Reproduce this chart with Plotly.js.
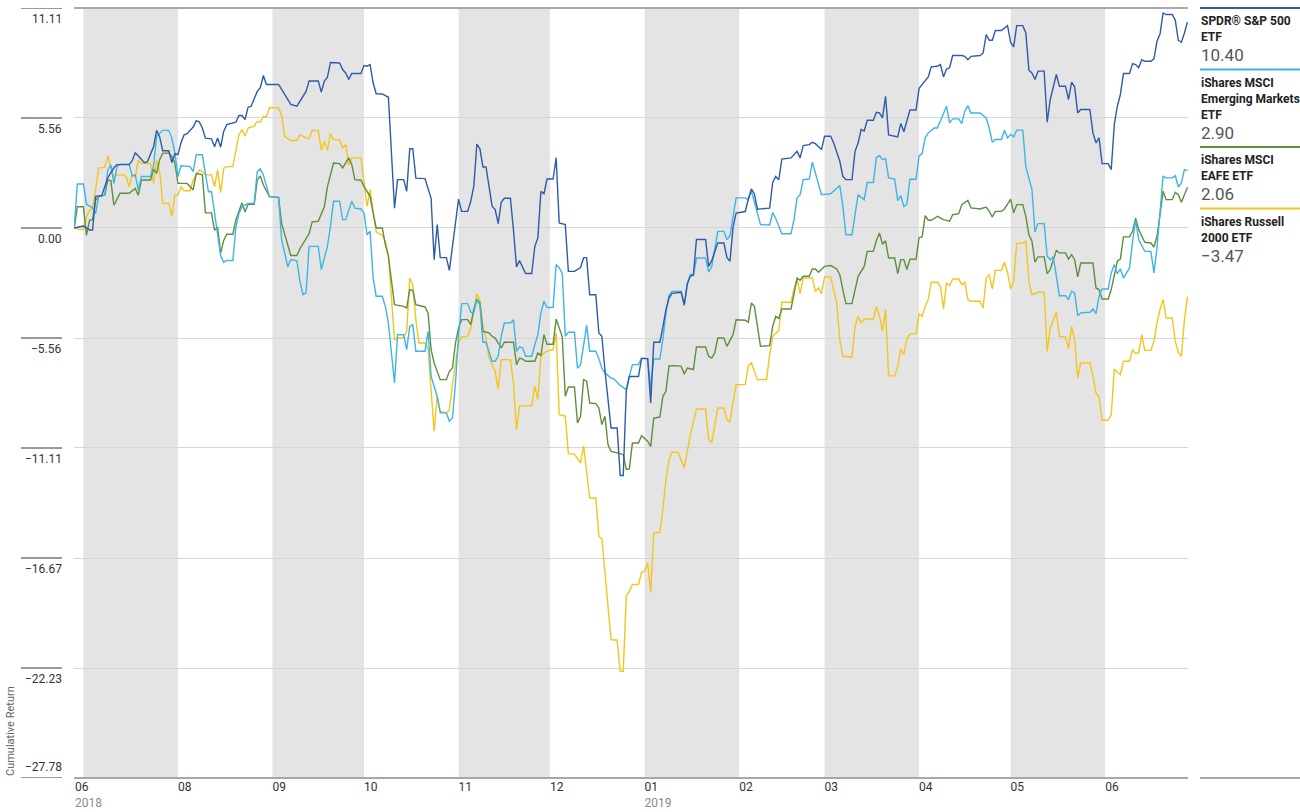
<!DOCTYPE html>
<html><head><meta charset="utf-8">
<script src="https://cdn.plot.ly/plotly-3.0.1.min.js"></script>
<style>html,body{margin:0;padding:0;background:#fff;}#chart{width:1300px;height:812px;}</style>
</head><body><div id="chart"></div>
<script>
const spdrDates = ["2018-06-28","2018-07-01","2018-07-03","2018-07-04","2018-07-05","2018-07-07","2018-07-09","2018-07-11","2018-07-12","2018-07-16","2018-07-17","2018-07-18","2018-07-20","2018-07-21","2018-07-22","2018-07-23","2018-07-24","2018-07-25","2018-07-26","2018-07-27","2018-07-29","2018-07-30","2018-07-31","2018-08-01","2018-08-02","2018-08-03","2018-08-04","2018-08-06","2018-08-07","2018-08-08","2018-08-09","2018-08-10","2018-08-12","2018-08-13","2018-08-14","2018-08-15","2018-08-16","2018-08-17","2018-08-20","2018-08-21","2018-08-22","2018-08-23","2018-08-24","2018-08-25","2018-08-27","2018-08-28","2018-08-29","2018-08-30","2018-09-03","2018-09-04","2018-09-07","2018-09-09","2018-09-10","2018-09-12","2018-09-13","2018-09-16","2018-09-17","2018-09-18","2018-09-19","2018-09-20","2018-09-23","2018-09-24","2018-09-25","2018-09-26","2018-09-27","2018-09-30","2018-10-01","2018-10-02","2018-10-03","2018-10-04","2018-10-05","2018-10-07","2018-10-09","2018-10-11","2018-10-12","2018-10-14","2018-10-15","2018-10-16","2018-10-17","2018-10-18","2018-10-21","2018-10-23","2018-10-24","2018-10-25","2018-10-26","2018-10-28","2018-10-29","2018-11-01","2018-11-02","2018-11-04","2018-11-05","2018-11-06","2018-11-07","2018-11-08","2018-11-09","2018-11-10","2018-11-12","2018-11-13","2018-11-14","2018-11-15","2018-11-16","2018-11-18","2018-11-19","2018-11-20","2018-11-21","2018-11-23","2018-11-25","2018-11-26","2018-11-27","2018-11-28","2018-11-29","2018-11-30","2018-12-02","2018-12-03","2018-12-04","2018-12-06","2018-12-07","2018-12-09","2018-12-11","2018-12-12","2018-12-13","2018-12-14","2018-12-16","2018-12-17","2018-12-18","2018-12-19","2018-12-21","2018-12-23","2018-12-24","2018-12-25","2018-12-26","2018-12-27","2018-12-30","2018-12-31","2019-01-02","2019-01-03","2019-01-04","2019-01-06","2019-01-07","2019-01-08","2019-01-09","2019-01-10","2019-01-13","2019-01-14","2019-01-15","2019-01-16","2019-01-17","2019-01-18","2019-01-21","2019-01-22","2019-01-23","2019-01-25","2019-01-27","2019-01-28","2019-01-29","2019-01-30","2019-01-31","2019-02-03","2019-02-04","2019-02-05","2019-02-06","2019-02-07","2019-02-11","2019-02-12","2019-02-13","2019-02-14","2019-02-15","2019-02-18","2019-02-20","2019-02-21","2019-02-22","2019-02-24","2019-02-25","2019-02-26","2019-02-28","2019-03-01","2019-03-03","2019-03-04","2019-03-06","2019-03-07","2019-03-08","2019-03-10","2019-03-11","2019-03-12","2019-03-13","2019-03-14","2019-03-15","2019-03-17","2019-03-18","2019-03-19","2019-03-20","2019-03-21","2019-03-22","2019-03-25","2019-03-26","2019-03-27","2019-03-29","2019-03-31","2019-04-01","2019-04-02","2019-04-04","2019-04-05","2019-04-07","2019-04-08","2019-04-09","2019-04-10","2019-04-11","2019-04-12","2019-04-15","2019-04-16","2019-04-17","2019-04-18","2019-04-21","2019-04-22","2019-04-23","2019-04-24","2019-04-25","2019-04-26","2019-04-28","2019-04-30","2019-05-01","2019-05-02","2019-05-03","2019-05-05","2019-05-06","2019-05-07","2019-05-08","2019-05-09","2019-05-10","2019-05-12","2019-05-13","2019-05-14","2019-05-16","2019-05-17","2019-05-19","2019-05-20","2019-05-21","2019-05-22","2019-05-23","2019-05-24","2019-05-27","2019-05-28","2019-05-29","2019-05-30","2019-05-31","2019-06-02","2019-06-03","2019-06-04","2019-06-05","2019-06-06","2019-06-07","2019-06-09","2019-06-10","2019-06-11","2019-06-12","2019-06-13","2019-06-14","2019-06-16","2019-06-17","2019-06-18","2019-06-19","2019-06-20","2019-06-21","2019-06-23","2019-06-24","2019-06-25","2019-06-26","2019-06-27","2019-06-28"];
const spdrValues = [0,0.1,-0.1,-0.1,1.6,1.63,2.54,3.04,3.2,3.2,3.4,3.8,3.47,3.3,3.35,3.7,4.1,4.93,4.6,3.9,3.9,3.3,3.75,3.7,4.3,4.7,4.76,5.1,5.42,5.36,5.05,4.54,4.5,4.1,4.54,4.08,4.88,5.22,5.34,5.68,5.68,5.47,6.1,6.15,6.9,7.08,7.7,7.25,7.25,7.0,6.24,6.15,6.4,6.9,7.42,7.42,6.86,7.42,7.6,8.36,8.33,8.0,7.83,7.5,7.8,7.8,8.2,8.17,8.25,7.32,6.78,6.77,6.6,1.0,2.44,2.44,1.85,4.0,4.0,2.52,2.49,1.5,-1.6,0.17,-1.5,-1.5,-2.14,1.46,0.84,0.84,1.35,2.1,4.24,4.0,3.08,3.08,1.1,0.93,0.22,1.3,1.5,1.5,-0.1,-1.97,-1.65,-2.3,-2.3,-0.93,-0.5,1.85,1.73,2.47,2.47,3.54,0.25,0.17,-2.19,-2.19,-2.0,-1.5,-1.5,-3.37,-3.37,-5.3,-5.47,-7.2,-10.1,-10.1,-12.5,-12.5,-8.2,-7.5,-7.5,-6.6,-6.6,-8.84,-5.77,-5.77,-5.0,-4.12,-3.54,-3.3,-3.25,-3.87,-2.8,-2.44,-2.36,-0.58,-0.58,-1.94,-1.65,-0.76,-0.76,-1.5,-1.68,0.04,0.75,0.83,1.45,1.97,1.72,0.95,1.0,2.3,2.6,2.44,3.48,3.54,3.87,3.54,4.16,4.21,4.33,4.26,3.96,4.63,4.63,4.29,3.37,2.61,2.44,2.44,3.87,4.29,4.97,4.9,5.44,5.44,5.84,5.81,5.56,6.65,4.7,4.6,5.28,4.86,5.96,5.96,7.05,7.24,7.63,8.14,8.17,8.25,7.63,8.03,8.09,8.71,8.71,8.67,8.5,8.67,8.71,8.84,9.77,9.48,9.48,9.97,9.97,10.22,9.38,9.15,10.22,10.22,9.85,7.97,7.83,7.5,7.92,7.92,5.34,6.49,7.75,7.16,7.16,6.49,7.36,7.13,5.81,5.98,5.98,4.8,4.3,4.55,3.25,3.25,2.95,5.22,6.15,6.74,7.8,7.8,8.3,8.25,8.09,8.5,8.42,8.42,8.54,9.43,9.8,10.86,10.78,10.78,10.49,9.48,9.38,9.85,10.40];

const emDates = ["2018-06-28","2018-06-29","2018-07-01","2018-07-02","2018-07-03","2018-07-04","2018-07-05","2018-07-06","2018-07-08","2018-07-09","2018-07-10","2018-07-11","2018-07-12","2018-07-13","2018-07-16","2018-07-17","2018-07-18","2018-07-19","2018-07-20","2018-07-23","2018-07-24","2018-07-25","2018-07-27","2018-07-29","2018-07-30","2018-07-31","2018-08-01","2018-08-02","2018-08-05","2018-08-06","2018-08-07","2018-08-09","2018-08-10","2018-08-11","2018-08-12","2018-08-13","2018-08-14","2018-08-15","2018-08-16","2018-08-17","2018-08-19","2018-08-20","2018-08-21","2018-08-22","2018-08-24","2018-08-26","2018-08-27","2018-08-28","2018-08-29","2018-08-31","2018-09-03","2018-09-04","2018-09-06","2018-09-07","2018-09-09","2018-09-10","2018-09-11","2018-09-12","2018-09-13","2018-09-16","2018-09-17","2018-09-19","2018-09-20","2018-09-21","2018-09-23","2018-09-24","2018-09-25","2018-09-27","2018-09-28","2018-09-30","2018-10-01","2018-10-02","2018-10-03","2018-10-04","2018-10-05","2018-10-07","2018-10-08","2018-10-09","2018-10-11","2018-10-12","2018-10-14","2018-10-15","2018-10-16","2018-10-17","2018-10-18","2018-10-21","2018-10-22","2018-10-23","2018-10-24","2018-10-25","2018-10-26","2018-10-28","2018-10-29","2018-10-30","2018-10-31","2018-11-01","2018-11-02","2018-11-04","2018-11-05","2018-11-06","2018-11-07","2018-11-08","2018-11-09","2018-11-10","2018-11-12","2018-11-13","2018-11-14","2018-11-15","2018-11-16","2018-11-18","2018-11-19","2018-11-20","2018-11-21","2018-11-22","2018-11-23","2018-11-25","2018-11-26","2018-11-27","2018-11-28","2018-11-29","2018-11-30","2018-12-02","2018-12-03","2018-12-04","2018-12-05","2018-12-06","2018-12-07","2018-12-09","2018-12-10","2018-12-11","2018-12-13","2018-12-14","2018-12-16","2018-12-17","2018-12-18","2018-12-19","2018-12-21","2018-12-22","2018-12-24","2018-12-26","2018-12-27","2018-12-28","2018-12-30","2018-12-31","2019-01-02","2019-01-03","2019-01-04","2019-01-06","2019-01-07","2019-01-08","2019-01-09","2019-01-10","2019-01-13","2019-01-14","2019-01-15","2019-01-16","2019-01-17","2019-01-18","2019-01-21","2019-01-22","2019-01-23","2019-01-25","2019-01-27","2019-01-28","2019-01-29","2019-01-31","2019-02-03","2019-02-04","2019-02-05","2019-02-06","2019-02-08","2019-02-11","2019-02-12","2019-02-13","2019-02-15","2019-02-18","2019-02-19","2019-02-20","2019-02-21","2019-02-22","2019-02-24","2019-02-25","2019-02-26","2019-02-28","2019-03-03","2019-03-06","2019-03-07","2019-03-08","2019-03-10","2019-03-11","2019-03-12","2019-03-14","2019-03-15","2019-03-17","2019-03-18","2019-03-19","2019-03-20","2019-03-21","2019-03-22","2019-03-24","2019-03-25","2019-03-26","2019-03-27","2019-03-28","2019-03-29","2019-03-31","2019-04-01","2019-04-02","2019-04-03","2019-04-04","2019-04-06","2019-04-07","2019-04-09","2019-04-10","2019-04-11","2019-04-12","2019-04-14","2019-04-15","2019-04-16","2019-04-17","2019-04-18","2019-04-21","2019-04-23","2019-04-24","2019-04-25","2019-04-26","2019-04-28","2019-04-29","2019-04-30","2019-05-01","2019-05-02","2019-05-03","2019-05-05","2019-05-06","2019-05-08","2019-05-09","2019-05-10","2019-05-12","2019-05-13","2019-05-14","2019-05-15","2019-05-17","2019-05-19","2019-05-20","2019-05-21","2019-05-22","2019-05-23","2019-05-24","2019-05-27","2019-05-28","2019-05-29","2019-05-30","2019-05-31","2019-06-02","2019-06-03","2019-06-04","2019-06-05","2019-06-06","2019-06-07","2019-06-09","2019-06-10","2019-06-11","2019-06-12","2019-06-14","2019-06-16","2019-06-17","2019-06-18","2019-06-19","2019-06-20","2019-06-21","2019-06-23","2019-06-24","2019-06-25","2019-06-26","2019-06-27","2019-06-28"];
const emValues = [0,2.22,2.22,1.2,1.1,1.03,0.73,1.6,1.66,2.93,3.19,2.25,3.1,3.22,3.22,2.63,2.68,1.92,2.6,2.6,3.14,4.63,4.93,4.93,4.54,3.78,2.6,3.14,3.1,2.85,3.7,3.7,2.76,1.83,1.83,0.73,-0.29,-1.39,-1.73,-1.64,-1.64,0.05,0.73,1.07,1.24,1.24,2.85,2.98,2.68,1.58,1.54,-0.6,-1.96,-1.6,-1.66,-2.7,-3.37,-3.28,-0.93,-0.93,-2.1,-0.93,0.08,1.35,1.35,0.42,0.42,1.35,1.0,0.96,0.76,-0.34,-0.17,-2.53,-3.45,-3.45,-3.96,-4.8,-7.83,-5.39,-5.39,-6.14,-4.97,-4.88,-6.23,-6.23,-5.22,-7.49,-8.0,-8.5,-9.34,-9.34,-9.76,-9.6,-7.83,-5.47,-3.82,-3.82,-4.26,-4.26,-3.62,-3.87,-5.77,-5.77,-6.73,-6.73,-6.48,-5.47,-4.8,-4.8,-4.63,-6.23,-6.0,-6.06,-6.48,-6.48,-5.9,-5.39,-4.29,-3.7,-4.02,-4.02,-1.85,-2.0,-2.3,-5.47,-5.27,-5.27,-7.08,-6.92,-4.92,-6.23,-6.23,-6.6,-7.1,-7.32,-7.58,-7.63,-7.95,-8.16,-7.49,-6.9,-6.9,-6.57,-6.6,-8.08,-6.62,-6.62,-5.6,-4.3,-3.4,-3.2,-3.2,-3.92,-2.87,-2.33,-2.4,-1.52,-1.52,-2.22,-1.97,-0.17,-0.17,-0.59,-0.38,1.52,1.52,1.43,1.88,1.3,0.17,0.15,0.78,0.48,-0.29,-0.29,0.42,1.52,1.68,2.44,2.47,3.32,2.78,1.68,1.73,2.14,1.1,-0.34,-0.34,0.59,1.68,1.43,2.3,2.3,3.56,3.65,3.45,3.5,2.53,2.47,1.38,1.63,1.08,1.2,2.46,2.46,3.64,3.76,4.55,4.8,5.05,5.05,5.73,6.15,5.31,5.51,5.51,5.27,5.9,6.18,5.81,5.81,5.56,5.05,4.33,4.47,4.47,4.94,4.55,4.72,4.6,4.94,4.94,3.08,1.94,-0.2,0.22,0.22,-1.43,-1.6,-1.46,-3.42,-3.42,-3.62,-3.2,-3.28,-4.43,-4.29,-4.26,-4.09,-4.33,-3.45,-3.08,-3.08,-2.27,-1.85,-2.31,-2.07,-2.53,-2.02,-0.67,0.39,-0.59,-1.18,-1.18,-2.27,-1.01,0.67,2.61,2.53,2.53,2.64,2.07,2.27,2.95,2.90];

const eafeDates = ["2018-06-28","2018-06-29","2018-07-01","2018-07-02","2018-07-03","2018-07-04","2018-07-05","2018-07-06","2018-07-08","2018-07-09","2018-07-10","2018-07-11","2018-07-13","2018-07-16","2018-07-18","2018-07-19","2018-07-20","2018-07-23","2018-07-24","2018-07-25","2018-07-26","2018-07-27","2018-07-29","2018-07-30","2018-07-31","2018-08-01","2018-08-04","2018-08-06","2018-08-07","2018-08-09","2018-08-10","2018-08-12","2018-08-13","2018-08-14","2018-08-15","2018-08-16","2018-08-17","2018-08-19","2018-08-20","2018-08-22","2018-08-23","2018-08-24","2018-08-26","2018-08-27","2018-08-28","2018-08-29","2018-08-31","2018-09-03","2018-09-04","2018-09-06","2018-09-07","2018-09-09","2018-09-10","2018-09-13","2018-09-14","2018-09-16","2018-09-18","2018-09-19","2018-09-21","2018-09-23","2018-09-24","2018-09-26","2018-09-27","2018-09-28","2018-09-30","2018-10-01","2018-10-03","2018-10-04","2018-10-05","2018-10-07","2018-10-08","2018-10-09","2018-10-11","2018-10-14","2018-10-15","2018-10-16","2018-10-17","2018-10-18","2018-10-21","2018-10-22","2018-10-23","2018-10-24","2018-10-25","2018-10-26","2018-10-28","2018-10-29","2018-10-30","2018-10-31","2018-11-01","2018-11-02","2018-11-04","2018-11-05","2018-11-06","2018-11-07","2018-11-08","2018-11-09","2018-11-11","2018-11-12","2018-11-13","2018-11-14","2018-11-15","2018-11-16","2018-11-19","2018-11-20","2018-11-21","2018-11-22","2018-11-23","2018-11-26","2018-11-27","2018-11-28","2018-11-29","2018-11-30","2018-12-02","2018-12-03","2018-12-04","2018-12-05","2018-12-06","2018-12-07","2018-12-09","2018-12-10","2018-12-11","2018-12-12","2018-12-13","2018-12-14","2018-12-16","2018-12-17","2018-12-18","2018-12-19","2018-12-20","2018-12-21","2018-12-24","2018-12-25","2018-12-26","2018-12-27","2018-12-28","2018-12-30","2018-12-31","2019-01-02","2019-01-03","2019-01-04","2019-01-06","2019-01-07","2019-01-08","2019-01-09","2019-01-11","2019-01-13","2019-01-14","2019-01-15","2019-01-17","2019-01-18","2019-01-21","2019-01-22","2019-01-23","2019-01-24","2019-01-25","2019-01-27","2019-01-28","2019-01-30","2019-01-31","2019-02-03","2019-02-04","2019-02-05","2019-02-06","2019-02-08","2019-02-11","2019-02-12","2019-02-13","2019-02-14","2019-02-15","2019-02-18","2019-02-19","2019-02-20","2019-02-21","2019-02-22","2019-02-24","2019-02-25","2019-02-26","2019-02-27","2019-03-01","2019-03-03","2019-03-05","2019-03-06","2019-03-07","2019-03-08","2019-03-10","2019-03-11","2019-03-12","2019-03-14","2019-03-15","2019-03-17","2019-03-18","2019-03-19","2019-03-20","2019-03-21","2019-03-22","2019-03-24","2019-03-25","2019-03-26","2019-03-27","2019-03-28","2019-03-29","2019-03-31","2019-04-01","2019-04-02","2019-04-03","2019-04-04","2019-04-05","2019-04-07","2019-04-09","2019-04-11","2019-04-12","2019-04-14","2019-04-15","2019-04-17","2019-04-18","2019-04-21","2019-04-23","2019-04-24","2019-04-25","2019-04-26","2019-04-28","2019-04-29","2019-04-30","2019-05-01","2019-05-02","2019-05-03","2019-05-05","2019-05-06","2019-05-07","2019-05-08","2019-05-09","2019-05-10","2019-05-12","2019-05-13","2019-05-14","2019-05-16","2019-05-17","2019-05-19","2019-05-20","2019-05-21","2019-05-22","2019-05-23","2019-05-24","2019-05-28","2019-05-29","2019-05-30","2019-05-31","2019-06-02","2019-06-03","2019-06-04","2019-06-05","2019-06-06","2019-06-07","2019-06-09","2019-06-10","2019-06-11","2019-06-12","2019-06-14","2019-06-16","2019-06-17","2019-06-18","2019-06-19","2019-06-20","2019-06-21","2019-06-23","2019-06-24","2019-06-25","2019-06-26","2019-06-28"];
const eafeValues = [0,1.07,1.07,-0.37,0.39,0.42,1.4,1.6,1.66,2.42,2.39,1.15,1.75,1.75,2.0,1.66,2.42,2.42,2.97,2.76,3.44,3.78,3.78,3.61,3.27,2.25,2.25,1.92,2.76,2.68,0.76,0.76,-0.12,0.05,-1.27,-0.63,-0.32,-0.32,0.42,1.27,0.81,1.2,1.2,2.42,2.63,2.17,1.58,1.54,0.22,-0.8,-1.39,-1.39,-1.05,-0.29,0.31,0.34,1.07,2.08,3.28,3.25,3.03,3.54,3.2,2.44,2.41,2.1,1.6,0.72,0,0,-0.84,-1.43,-3.87,-3.96,-4.04,-3.11,-3.15,-3.87,-3.99,-4.29,-6.14,-6.82,-7.24,-7.66,-7.66,-7.24,-7.07,-5.81,-5.05,-4.63,-4.63,-4.88,-4.12,-3.59,-3.79,-5.22,-5.3,-5.47,-5.56,-5.81,-6.06,-5.77,-5.77,-6.9,-6.57,-6.62,-6.73,-6.73,-6.31,-6.45,-5.39,-5.87,-5.87,-4.6,-5.0,-5.5,-8.5,-8.03,-8.03,-9.85,-9.51,-7.66,-7.74,-8.84,-8.87,-9.09,-9.93,-9.51,-10.94,-11.28,-11.4,-11.45,-12.2,-12.17,-10.86,-10.86,-10.49,-10.77,-11.03,-9.6,-9.55,-8.5,-8.25,-6.97,-6.95,-6.99,-7.38,-7.07,-7.15,-6.01,-6.01,-6.48,-6.57,-6.31,-5.56,-5.56,-5.98,-5.39,-4.64,-4.66,-4.76,-3.79,-3.96,-5.98,-5.94,-4.97,-4.46,-4.58,-4.09,-4.09,-3.32,-2.53,-2.64,-2.44,-2.44,-2.07,-2.07,-2.24,-1.94,-1.9,-2.07,-2.36,-3.11,-3.82,-3.82,-3.11,-2.44,-1.94,-1.18,-1.18,-0.63,-0.25,-0.82,-0.65,-1.52,-1.52,-2.31,-1.6,-1.6,-2.1,-1.58,-1.57,-0.48,-0.45,0.62,0.39,0.39,0.59,0.42,0.34,0.67,0.72,1.18,1.4,1.01,0.96,1.06,0.84,0.56,0.84,0.84,0.96,1.23,1.46,0.76,1.18,1.18,0.59,-0.34,-0.67,-1.73,-1.46,-1.46,-2.31,-2.1,-1.13,-1.26,-1.26,-1.57,-1.35,-1.6,-2.47,-1.77,-1.77,-3.03,-3.11,-3.59,-3.59,-3.11,-2.41,-1.68,-1.57,-0.45,-0.45,-0.17,0.5,-0.08,-0.72,-0.76,-0.96,-0.42,0.67,1.85,1.43,1.43,1.8,1.68,1.3,2.06];

const russellDates = ["2018-06-28","2018-06-30","2018-07-01","2018-07-02","2018-07-03","2018-07-04","2018-07-05","2018-07-06","2018-07-08","2018-07-09","2018-07-10","2018-07-11","2018-07-12","2018-07-14","2018-07-15","2018-07-16","2018-07-17","2018-07-18","2018-07-19","2018-07-20","2018-07-23","2018-07-24","2018-07-25","2018-07-26","2018-07-27","2018-07-29","2018-07-30","2018-07-31","2018-08-01","2018-08-02","2018-08-03","2018-08-05","2018-08-06","2018-08-07","2018-08-08","2018-08-09","2018-08-10","2018-08-12","2018-08-13","2018-08-14","2018-08-15","2018-08-16","2018-08-17","2018-08-19","2018-08-20","2018-08-21","2018-08-22","2018-08-23","2018-08-24","2018-08-26","2018-08-27","2018-08-28","2018-08-29","2018-08-30","2018-08-31","2018-09-03","2018-09-04","2018-09-05","2018-09-07","2018-09-09","2018-09-10","2018-09-12","2018-09-13","2018-09-14","2018-09-16","2018-09-17","2018-09-18","2018-09-19","2018-09-20","2018-09-21","2018-09-23","2018-09-24","2018-09-25","2018-09-26","2018-09-27","2018-09-30","2018-10-01","2018-10-02","2018-10-03","2018-10-04","2018-10-05","2018-10-07","2018-10-08","2018-10-09","2018-10-11","2018-10-12","2018-10-14","2018-10-15","2018-10-16","2018-10-17","2018-10-18","2018-10-19","2018-10-21","2018-10-22","2018-10-23","2018-10-24","2018-10-25","2018-10-26","2018-10-28","2018-10-29","2018-10-30","2018-11-01","2018-11-02","2018-11-04","2018-11-05","2018-11-07","2018-11-08","2018-11-09","2018-11-10","2018-11-11","2018-11-13","2018-11-14","2018-11-15","2018-11-18","2018-11-19","2018-11-20","2018-11-21","2018-11-23","2018-11-25","2018-11-26","2018-11-27","2018-11-28","2018-11-29","2018-11-30","2018-12-02","2018-12-03","2018-12-04","2018-12-06","2018-12-07","2018-12-09","2018-12-11","2018-12-12","2018-12-14","2018-12-16","2018-12-17","2018-12-18","2018-12-21","2018-12-23","2018-12-24","2018-12-25","2018-12-26","2018-12-27","2018-12-28","2018-12-30","2018-12-31","2019-01-01","2019-01-02","2019-01-03","2019-01-04","2019-01-06","2019-01-07","2019-01-08","2019-01-09","2019-01-10","2019-01-12","2019-01-14","2019-01-15","2019-01-16","2019-01-18","2019-01-21","2019-01-22","2019-01-23","2019-01-25","2019-01-27","2019-01-28","2019-01-29","2019-01-30","2019-01-31","2019-02-03","2019-02-04","2019-02-05","2019-02-07","2019-02-10","2019-02-11","2019-02-12","2019-02-14","2019-02-15","2019-02-18","2019-02-19","2019-02-20","2019-02-21","2019-02-22","2019-02-25","2019-02-26","2019-02-27","2019-02-28","2019-03-01","2019-03-03","2019-03-04","2019-03-05","2019-03-06","2019-03-07","2019-03-10","2019-03-11","2019-03-12","2019-03-13","2019-03-14","2019-03-17","2019-03-18","2019-03-19","2019-03-20","2019-03-21","2019-03-22","2019-03-24","2019-03-25","2019-03-26","2019-03-27","2019-03-28","2019-03-29","2019-03-31","2019-04-01","2019-04-02","2019-04-03","2019-04-04","2019-04-05","2019-04-07","2019-04-08","2019-04-09","2019-04-10","2019-04-11","2019-04-12","2019-04-14","2019-04-15","2019-04-16","2019-04-17","2019-04-18","2019-04-21","2019-04-22","2019-04-23","2019-04-24","2019-04-25","2019-04-26","2019-04-28","2019-04-29","2019-04-30","2019-05-01","2019-05-02","2019-05-03","2019-05-05","2019-05-06","2019-05-07","2019-05-08","2019-05-10","2019-05-12","2019-05-13","2019-05-14","2019-05-16","2019-05-17","2019-05-19","2019-05-20","2019-05-21","2019-05-22","2019-05-23","2019-05-24","2019-05-27","2019-05-28","2019-05-29","2019-05-30","2019-05-31","2019-06-02","2019-06-03","2019-06-04","2019-06-05","2019-06-06","2019-06-07","2019-06-09","2019-06-10","2019-06-11","2019-06-12","2019-06-13","2019-06-14","2019-06-16","2019-06-17","2019-06-18","2019-06-19","2019-06-20","2019-06-21","2019-06-23","2019-06-24","2019-06-25","2019-06-26","2019-06-27","2019-06-28"];
const russellValues = [0,-0.08,-0.08,0.56,0.9,0.98,1.92,3.02,3.07,3.64,3.02,2.51,2.68,2.68,2.6,2.08,2.68,2.59,3.44,3.27,3.24,2.25,3.44,2.85,1.24,1.24,0.59,1.66,1.66,2.08,1.88,1.88,2.42,2.68,2.93,2.85,2.68,2.68,2.08,2.93,1.78,3.02,3.1,3.1,3.86,4.71,4.97,4.63,5.05,5.14,5.39,5.34,5.64,5.61,6.07,6.07,5.68,4.63,4.42,4.42,4.71,4.54,4.51,4.93,4.93,3.92,4.37,3.92,4.77,4.46,4.43,4.04,4.21,3.15,3.54,3.54,2.3,1.09,1.94,0.76,-0.2,-0.37,-0.67,-1.4,-5.64,-5.56,-5.56,-5.22,-2.53,-2.86,-4.63,-5.81,-5.81,-6.14,-8.33,-10.27,-8.5,-9.26,-9.34,-9.18,-7.91,-5.81,-5.5,-5.47,-5.05,-3.32,-3.62,-5.05,-5.56,-6.57,-7.24,-8.16,-6.65,-6.65,-7.83,-10.19,-9.0,-9.0,-8.97,-8.0,-8.67,-6.48,-6.31,-6.23,-6.14,-5.3,-9.43,-9.5,-11.4,-11.42,-11.87,-11.0,-13.64,-13.64,-15.57,-15.71,-20.79,-20.82,-22.39,-22.39,-18.57,-18.35,-18.01,-18.01,-17.39,-17.34,-16.92,-18.4,-15.4,-15.37,-14.22,-12.71,-11.7,-11.33,-11.33,-12.12,-11.2,-10.45,-9.14,-9.14,-10.68,-10.84,-9.09,-9.09,-9.68,-9.81,-8.8,-7.91,-7.91,-6.95,-6.82,-7.66,-7.65,-6.4,-5.47,-5.17,-3.75,-3.75,-3.08,-2.58,-3.32,-2.53,-2.53,-3.2,-3.03,-3.32,-2.47,-2.47,-3.11,-3.79,-5.64,-6.48,-6.52,-4.97,-4.46,-4.8,-4.6,-4.6,-3.98,-4.44,-5.2,-4.1,-7.47,-7.47,-6.99,-6.12,-6.4,-5.6,-5.36,-5.34,-4.33,-4.46,-3.96,-3.62,-2.74,-2.74,-2.95,-4.09,-2.78,-2.91,-2.58,-2.58,-2.86,-2.74,-3.62,-3.7,-3.7,-4.04,-2.53,-2.36,-3.08,-2.14,-2.14,-1.73,-2.24,-3.08,-2.69,-0.79,-0.76,-0.67,-2.69,-3.37,-3.25,-3.25,-6.23,-5.05,-4.26,-5.47,-5.5,-6.11,-4.97,-5.64,-7.58,-6.82,-6.82,-7.46,-8.33,-8.54,-9.71,-9.71,-9.43,-7.12,-7.29,-7.41,-6.73,-6.73,-6.14,-6.35,-6.3,-5.39,-6.18,-6.18,-5.72,-4.8,-4.12,-3.62,-4.55,-4.55,-5.72,-6.28,-6.48,-4.63,-3.47];

const seriesNames = ["SPDR® S&P 500 ETF","iShares MSCI Emerging Markets ETF","iShares MSCI EAFE ETF","iShares Russell 2000 ETF"];
const legendNameLines = [["SPDR® S&P 500","ETF"],["iShares MSCI","Emerging Markets","ETF"],["iShares MSCI","EAFE ETF"],["iShares Russell","2000 ETF"]];
const finalValues = ["10.40","2.90","2.06","\u22123.47"];
const seriesColors = ["#2f5ca8","#3db5e6","#5f8f3e","#f4c51c"];

const yTickVals = [11.11,5.56,0,-5.56,-11.11,-16.67,-22.23,-27.78];
const yTickText = ["11.11","5.56","0.00","\u22125.56","\u221211.11","\u221216.67","\u221222.23","\u221227.78"];
const xTickVals = ["2018-06-28 06:00","2018-08-01","2018-09-01","2018-10-01","2018-11-01","2018-12-01","2019-01-01","2019-02-01","2019-03-01","2019-04-01","2019-05-01","2019-06-01"];
const xTickMonths = ["06","08","09","10","11","12","01","02","03","04","05","06"];
const xTickYears = ["2018","","","","","","2019","","","","",""];
const shadedStarts = ["2018-07-01","2018-09-01","2018-11-01","2019-01-01","2019-03-01","2019-05-01"];
const shadedEnds = ["2018-08-01","2018-10-01","2018-12-01","2019-02-01","2019-04-01","2019-06-01"];
const xRange = ["2018-06-27 22:00","2019-06-28 04:00"];

const FONT = "Roboto, Liberation Sans, Arial, sans-serif";
const seriesDates = [spdrDates, emDates, eafeDates, russellDates];
const seriesValues = [spdrValues, emValues, eafeValues, russellValues];

const traces = seriesNames.map((n,i)=>({
  type:"scatter", mode:"lines", name:n, x:seriesDates[i], y:seriesValues[i],
  line:{color:seriesColors[i], width:1.4}, hoverinfo:"skip"
}));
const ordered = [traces[3], traces[2], traces[1], traces[0]];

const shapes = [];
shadedStarts.forEach((s,i)=>shapes.push({type:"rect", xref:"x", yref:"paper", x0:s, x1:shadedEnds[i], y0:0, y1:1, fillcolor:"#e4e4e4", line:{width:0}, layer:"below"}));
yTickVals.forEach(v=>shapes.push({type:"line", xref:"paper", xsizemode:"pixel", xanchor:0, x0:-53, x1:-12, yref:"y", y0:v, y1:v, line:{color:"#9a9a9a", width:2}}));
shapes.push({type:"line", xref:"paper", yref:"paper", x0:0, x1:1, y0:1, y1:1, line:{color:"#a8a8a8", width:2}});
shapes.push({type:"line", xref:"paper", yref:"paper", x0:0, x1:1, y0:0, y1:0, line:{color:"#a8a8a8", width:2}});

const annotations = [];
let lineY = 8;
legendNameLines.forEach((lines,i)=>{
  shapes.push({type:"line", xref:"paper", xsizemode:"pixel", xanchor:1, x0:12, x1:112, yref:"paper", ysizemode:"pixel", yanchor:1, y0:-(lineY-8), y1:-(lineY-8), line:{color:seriesColors[i], width:2}});
  let c = lineY + 13;
  lines.forEach((t,k)=>{
    annotations.push({xref:"paper", x:1, xshift:11, xanchor:"left", yref:"paper", y:1, yshift:-(c-8), yanchor:"middle", text:"<b>"+t+"</b>", showarrow:false, font:{family:FONT, size:12, color:"#222"}});
    if(k<lines.length-1) c += 16;
  });
  const vc = c + 18;
  annotations.push({xref:"paper", x:1, xshift:11, xanchor:"left", yref:"paper", y:1, yshift:-(vc-8), yanchor:"middle", text:finalValues[i], showarrow:false, font:{family:FONT, size:17, color:"#555"}});
  lineY = vc + 14.5;
});
shapes.push({type:"line", xref:"paper", xsizemode:"pixel", xanchor:1, x0:12, x1:112, yref:"paper", y0:0, y1:0, line:{color:"#a8a8a8", width:2}});

yTickVals.forEach((v,i)=>{
  const last = i===yTickVals.length-1;
  annotations.push({xref:"paper", x:0, xshift:-10, xanchor:"right", yref:"y", y:v, yanchor:last?"bottom":"top", yshift:last?2:-2, text:yTickText[i], showarrow:false, font:{family:FONT, size:12, color:"#333"}});
});
annotations.push({xref:"paper", x:0, xshift:-64, xanchor:"center", yref:"paper", y:0, yanchor:"bottom", textangle:-90, text:"Cumulative Return", showarrow:false, font:{family:FONT, size:11, color:"#666"}});

const xTickText = xTickMonths.map((m,i)=> xTickYears[i] ? m+"<br><span style='color:#8a8a8a'>"+xTickYears[i]+"</span>" : m);

const layout = {
  width:1300, height:812,
  margin:{l:74, r:112, t:8, b:34, pad:0},
  paper_bgcolor:"#fff", plot_bgcolor:"#fff",
  showlegend:false, hovermode:false,
  font:{family:FONT, size:12, color:"#333"},
  xaxis:{type:"date", range:xRange, tickvals:xTickVals, ticktext:xTickText, ticks:"", showgrid:false, zeroline:false, showline:false, ticklabelposition:"outside right", tickfont:{family:FONT, size:12, color:"#333"}, fixedrange:true},
  yaxis:{range:[-27.78,11.11], tickvals:yTickVals, showticklabels:false, ticks:"", showgrid:true, gridcolor:"#d6d6d6", gridwidth:1, zeroline:false, showline:false, fixedrange:true},
  shapes:shapes, annotations:annotations
};
Plotly.newPlot("chart", ordered, layout, {displayModeBar:false, staticPlot:true});
</script></body></html>
